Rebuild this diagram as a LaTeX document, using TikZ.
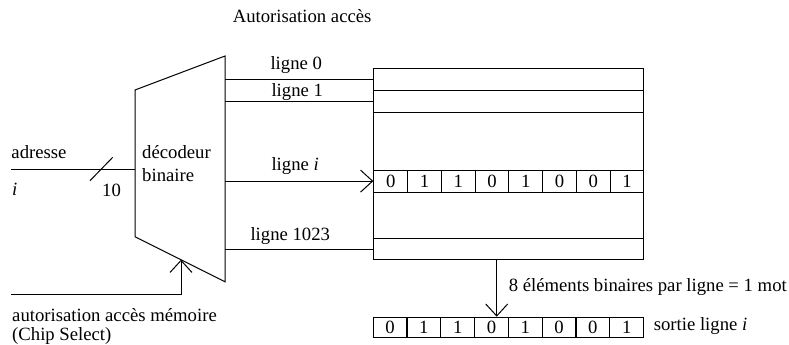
\documentclass[tikz,border=0pt]{standalone}
\usepackage{fontspec}
\setmainfont{Liberation Serif}
\usetikzlibrary{arrows.meta}
\begin{document}
\begin{tikzpicture}[x=1pt,y=-1pt,line width=1pt,
  every node/.style={font=\fontsize{18.7pt}{22pt}\selectfont},
  txt/.style={inner sep=0pt,anchor=base west},
  rowbox/.style={draw,minimum width=270pt,inner sep=0pt,anchor=north west},
  cell/.style={draw,minimum width=33.75pt,inner sep=0pt,anchor=north west},
  barb/.style={-{Straight Barb[length=12pt,width=22pt]}}]
\useasboundingbox (0,0) rectangle (789,345);
% decoder
\coordinate (dtl) at (135,90);
\coordinate (dtr) at (225,56);
\coordinate (dbr) at (225,281.7);
\coordinate (dbl) at (135,236.7);
\draw (dtl) -- (dtr) -- (dbr) -- (dbl) -- cycle;
\node[txt] (dec1) at (141.7,158.3) {décodeur};
\node[txt] (dec2) at (141.7,181.3) {binaire};
% memory
\node[rowbox,minimum height=191.6pt] (mem) at (373.3,67.7) {};
\node[rowbox,minimum height=22.3pt] (r0) at (373.3,67.7) {};
\node[rowbox,minimum height=22.3pt] (r1) at (373.3,90) {};
\node[rowbox,minimum height=22.2pt] (ri) at (373.3,169.5) {};
\node[rowbox,minimum height=21.6pt] (rl) at (373.3,237.7) {};
\foreach \b [count=\k from 0] in {0,1,1,0,1,0,0,1}
  \node[cell,minimum height=22.2pt] (c\k) at ({373.3+33.75*\k},169.5) {\b};
% decoder outputs
\draw (dtr |- r0.west) -- (r0.west);
\draw (dtr |- r1.west) -- (r1.west);
\draw[barb] (dtr |- ri.west) -- (ri.west);
\draw (dtr |- rl.west) -- (rl.west);
\node[txt] (l0) at (270,69.3) {ligne 0};
\node[txt] (l1) at (271,96) {ligne 1};
\node[txt] (li) at (271,170) {ligne \textit{i}};
\node[txt] (ll) at (250,240) {ligne 1023};
% address input
\coordinate (ain) at (11,169);
\draw (ain) -- (ain -| dtl);
\coordinate (s1) at (90,180.7);
\coordinate (s2) at (112.7,157.3);
\draw (s1) -- (s2);
\node[txt] (adr) at (11,158.3) {adresse};
\node[txt] (ai) at (11.7,195) {\textit{i}};
\node[txt] (ten) at (101.7,196.7) {10};
% chip select
\coordinate (csin) at (11,294);
\coordinate (cstip) at (181,259.7);
\draw[barb] (csin) -| (cstip);
\node[txt] (cs1) at (11.7,321.7) {autorisation accès mémoire};
\node[txt] (cs2) at (11.7,340) {(Chip Select)};
% output
\foreach \b [count=\k from 0] in {0,1,1,0,1,0,0,1}
  \node[cell,minimum height=20pt] (o\k) at ({372.7+33.8*\k},316.7) {\b};
\coordinate (bus) at (496.7,0);
\draw[barb] (bus |- mem.south) -- (bus |- o3.north);
\node[txt] (mot) at (508.3,291.7) {8 éléments binaires par ligne = 1 mot};
\node[txt] (sort) at (653.3,330) {sortie ligne \textit{i}};
\node[txt] (title) at (232.3,22.7) {Autorisation accès};
\end{tikzpicture}
\end{document}
